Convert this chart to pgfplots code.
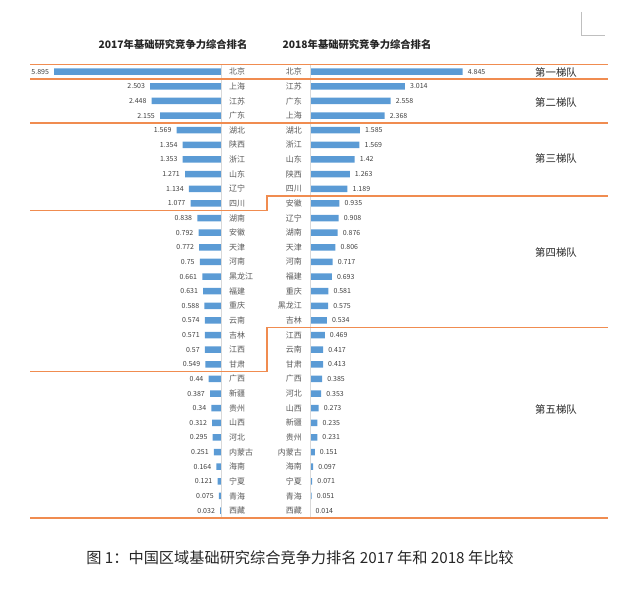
\documentclass[border=0pt]{standalone}
\usepackage{fontspec}
\setmainfont{Noto Sans CJK SC}
\usepackage{pgfplots}
\pgfplotsset{compat=1.18}
\definecolor{barblue}{HTML}{5B9BD5}
\definecolor{tierorange}{RGB}{240,140,80}
\definecolor{axisgray}{HTML}{D9D9D9}
\definecolor{namegray}{HTML}{595959}
\definecolor{valgray}{HTML}{404040}
\begin{document}
\begin{tikzpicture}[x=1pt,y=1pt]
\path[use as bounding box] (0,0) rectangle (640,595);
% ---------- 2017 (left) ----------
\begin{axis}[at={(0pt,77.1pt)}, anchor=south west,
  width=221pt, height=453.5pt, scale only axis,
  xmin=0, xmax=7.809, x dir=reverse,
  ymin=0.5, ymax=31.5, y dir=reverse,
  xtick=\empty, ytick={1,...,31},
  yticklabels={北京,上海,江苏,广东,湖北,陕西,浙江,山东,辽宁,四川,湖南,安徽,天津,河南,黑龙江,福建,重庆,云南,吉林,江西,甘肃,广西,新疆,贵州,山西,河北,内蒙古,海南,宁夏,青海,西藏},
  yticklabel pos=right,
  yticklabel style={anchor=west, inner sep=0pt, xshift=8pt, text=namegray, font=\fontsize{8}{9}\selectfont},
  axis line style={draw=none}, major tick length=0pt, clip=false]
\addplot[xbar, bar width=6.5pt, fill=barblue, draw=none,
  point meta=explicit symbolic, nodes near coords,
  nodes near coords style={anchor=east, inner sep=0pt, xshift=-5pt, text=valgray, font=\fontsize{7}{8}\selectfont}]
  table[x=v, y=r, meta=v] {
v r
5.895 1
2.503 2
2.448 3
2.155 4
1.569 5
1.354 6
1.353 7
1.271 8
1.134 9
1.077 10
0.838 11
0.792 12
0.772 13
0.75 14
0.661 15
0.631 16
0.588 17
0.574 18
0.571 19
0.57 20
0.549 21
0.44 22
0.387 23
0.34 24
0.312 25
0.295 26
0.251 27
0.164 28
0.121 29
0.075 30
0.032 31
};
\draw[axisgray, line width=0.8pt] (axis cs:0,0.5) -- (axis cs:0,31.5);
\end{axis}
% ---------- 2018 (right) ----------
\begin{axis}[at={(310pt,77.1pt)}, anchor=south west,
  width=200pt, height=453.5pt, scale only axis,
  xmin=0, xmax=6.349,
  ymin=0.5, ymax=31.5, y dir=reverse,
  xtick=\empty, ytick={1,...,31},
  yticklabels={北京,江苏,广东,上海,湖北,浙江,山东,陕西,四川,安徽,辽宁,湖南,天津,河南,福建,重庆,黑龙江,吉林,江西,云南,甘肃,广西,河北,山西,新疆,贵州,内蒙古,海南,宁夏,青海,西藏},
  yticklabel pos=left,
  yticklabel style={anchor=east, inner sep=0pt, xshift=-8pt, text=namegray, font=\fontsize{8}{9}\selectfont},
  axis line style={draw=none}, major tick length=0pt, clip=false]
\addplot[xbar, bar width=6.5pt, fill=barblue, draw=none,
  point meta=explicit symbolic, nodes near coords,
  nodes near coords style={anchor=west, inner sep=0pt, xshift=5pt, text=valgray, font=\fontsize{7}{8}\selectfont}]
  table[x=v, y=r, meta=v] {
v r
4.845 1
3.014 2
2.558 3
2.368 4
1.585 5
1.569 6
1.42 7
1.263 8
1.189 9
0.935 10
0.908 11
0.876 12
0.806 13
0.717 14
0.693 15
0.581 16
0.575 17
0.534 18
0.469 19
0.417 20
0.413 21
0.385 22
0.353 23
0.273 24
0.235 25
0.231 26
0.151 27
0.097 28
0.071 29
0.051 30
0.014 31
};
\draw[axisgray, line width=0.8pt] (axis cs:0,0.5) -- (axis cs:0,31.5);
\end{axis}
% ---------- tier separators ----------
\begin{scope}[tierorange, line width=1.2pt]
\draw (30,530.6) -- (608,530.6);
\draw (30,515.97) -- (608,515.97);
\draw (30,472.08) -- (608,472.08);
\draw (30,384.31) -- (267,384.31) -- (267,398.94) -- (608,398.94);
\draw (30,223.39) -- (267,223.39) -- (267,267.28) -- (608,267.28);
\draw (30,77.1) -- (608,77.1);
\end{scope}
% ---------- titles and tier labels ----------
\node[font=\fontsize{10.3}{12}\selectfont\bfseries, text=black!85] at (173,550) {2017年基础研究竞争力综合排名};
\node[font=\fontsize{10.3}{12}\selectfont\bfseries, text=black!85] at (357,550) {2018年基础研究竞争力综合排名};
\begin{scope}[font=\fontsize{10.4}{12}\selectfont, text=black!85]
\node at (556,522.3) {第一梯队};
\node at (556,492.3) {第二梯队};
\node at (556,436) {第三梯队};
\node at (556,342.3) {第四梯队};
\node at (556,185) {第五梯队};
\end{scope}
\draw[gray!50, line width=0.6pt] (581,583) -- (581,560) -- (605,560);
\node[font=\fontsize{15.2}{18}\selectfont, text=black!85] at (300,37) {图 1：中国区域基础研究综合竞争力排名 2017 年和 2018 年比较};
\end{tikzpicture}
\end{document}
